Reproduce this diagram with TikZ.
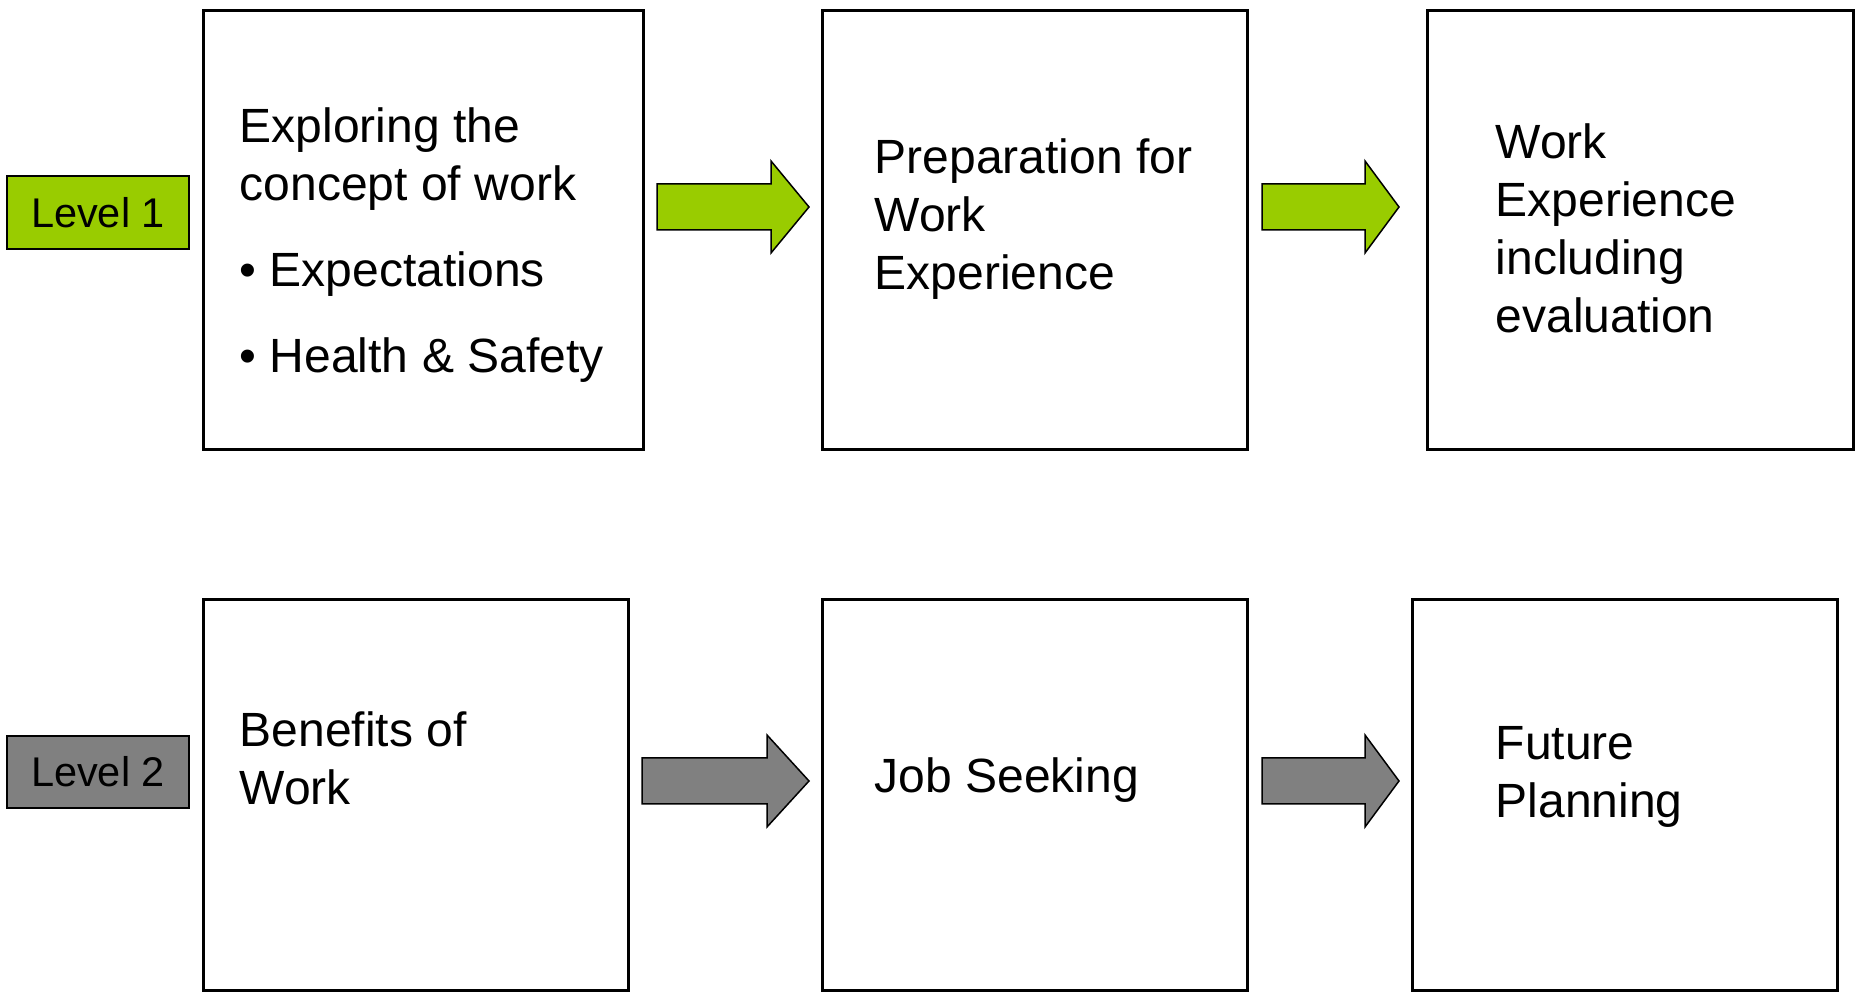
\documentclass[tikz,border=0pt]{standalone}
\usepackage{fontspec}
\setmainfont{Liberation Sans}
\usetikzlibrary{positioning}

\definecolor{stufegruen}{HTML}{99CC00}
\definecolor{stufegrau}{HTML}{808080}

\begin{document}
\begin{tikzpicture}[x=0.01cm, y=-0.01cm,
  kasten/.style={draw, line width=0.03cm, minimum width=4.24cm, inner sep=0pt},
  stufe/.style={draw, line width=0.02cm, minimum width=1.82cm, minimum height=0.72cm, inner sep=0pt,
    font=\fontsize{11.8}{14.2}\selectfont},
  inhalt/.style={anchor=north west, inner sep=0pt, align=left,
    font=\fontsize{13.66}{16.5}\selectfont},
  pfeil/.style={draw, line width=0.015cm, line join=miter}]
\useasboundingbox (0,0) rectangle (1857,992);

% Level 1
\node [stufe, fill=stufegruen] (stufeeins) at (98,212.5) {Level 1};
\node [kasten, minimum width=4.39cm, minimum height=4.38cm] (erkunden) at (423.5,230) {};
\node [kasten, minimum height=4.38cm] (vorbereitung) at (1035,230) {};
\node [kasten, minimum width=4.25cm, minimum height=4.38cm] (praktikum) at (1640.5,230) {};
\node [inhalt] (erkundentext) at (239,107) {Exploring the\\concept of work\\[8pt]%
  \textbullet\ Expectations\\[8pt]\textbullet\ Health \& Safety};
\node [inhalt] (vorbereitungtext) at (874,138) {Preparation for\\Work\\Experience};
\node [inhalt] (praktikumtext) at (1495,123) {Work\\Experience\\including\\evaluation};
\draw [pfeil, fill=stufegruen] (657,184) -- (771,184) -- (771,161) -- (809,207)
  -- (771,253) -- (771,230) -- (657,230) -- cycle;
\draw [pfeil, fill=stufegruen] (1262,184) -- (1365,184) -- (1365,161) -- (1399,207)
  -- (1365,253) -- (1365,230) -- (1262,230) -- cycle;

% Level 2
\node [stufe, fill=stufegrau] (stufezwei) at (98,772) {Level 2};
\node [kasten, minimum height=3.9cm] (nutzen) at (416,795) {};
\node [kasten, minimum height=3.9cm] (jobsuche) at (1035,795) {};
\node [kasten, minimum height=3.9cm] (zukunft) at (1625,795) {};
\node [inhalt] (nutzentext) at (239,711) {Benefits of\\Work};
\node [inhalt] (jobsuchetext) at (874,757) {Job Seeking};
\node [inhalt] (zukunfttext) at (1495,726) {Future\\Planning};
\draw [pfeil, fill=stufegrau] (642,758) -- (767,758) -- (767,735) -- (809,781)
  -- (767,827) -- (767,804) -- (642,804) -- cycle;
\draw [pfeil, fill=stufegrau] (1262,758) -- (1365,758) -- (1365,735) -- (1399,781)
  -- (1365,827) -- (1365,804) -- (1262,804) -- cycle;
\end{tikzpicture}
\end{document}
